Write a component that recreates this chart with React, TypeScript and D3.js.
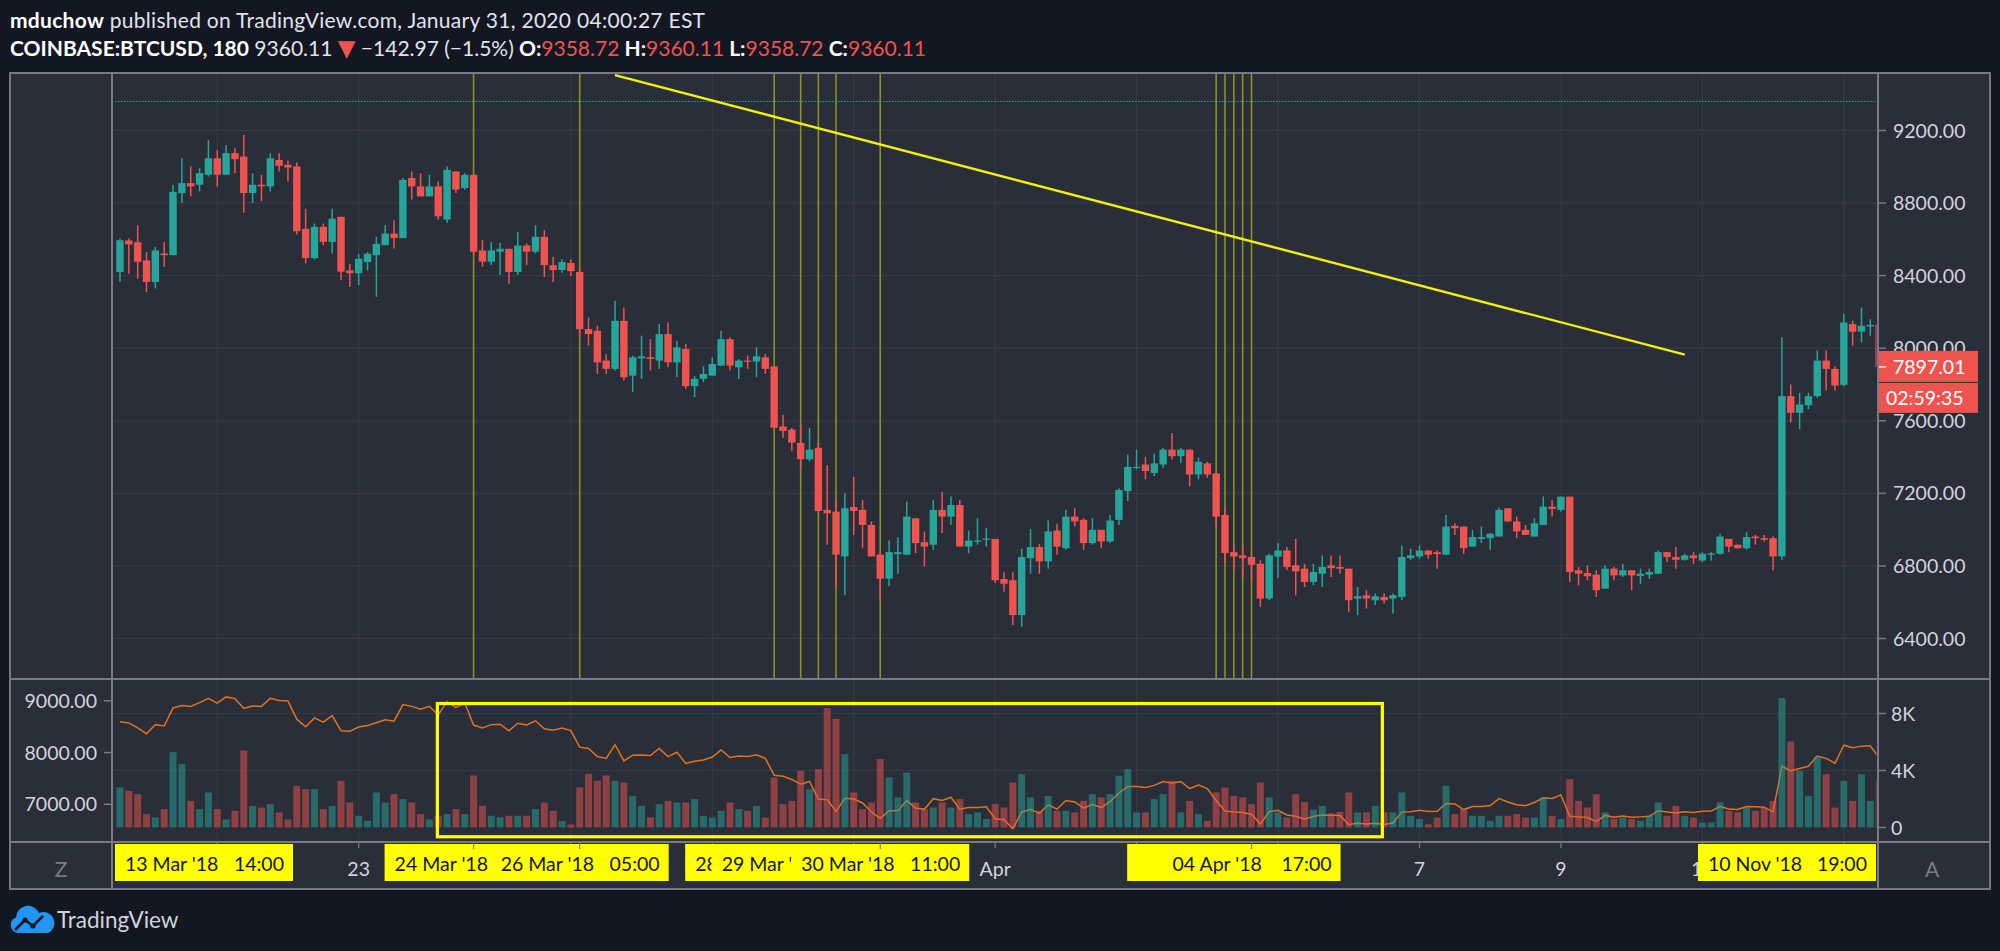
import React from "react";
import * as d3 from "d3";

// ---------- DATA ----------
const opens = [
  8420, 8594, 8584, 8484, 8365, 8522, 8513, 8855, 8910, 8901,
  8956, 9047, 8956, 9075, 9056, 8855, 8901, 8892, 9038, 9011,
  9002, 8658, 8497, 8669, 8586, 8724, 8429, 8413, 8475, 8513,
  8568, 8632, 8607, 8938, 8892, 8837, 8892, 8709, 8974, 8883,
  8956, 8539, 8477, 8532, 8548, 8420, 8566, 8532, 8614, 8457,
  8431, 8470, 8420, 8105, 8096, 7932, 7886, 8151, 7849, 7944,
  7950, 7932, 8078, 7922, 7996, 7791, 7831, 7849, 7904, 8050,
  7895, 7932, 7926, 7950, 7900, 7569, 7551, 7478, 7388, 7451,
  7109, 7099, 6853, 7125, 7109, 7026, 6862, 6730, 6865, 6862,
  7063, 6931, 6917, 7109, 7072, 7136, 6907, 6935, 6946, 6949,
  6728, 6721, 6529, 6843, 6904, 6825, 6995, 6898, 7072, 7054,
  6926, 6999, 6935, 7054, 7213, 7341, 7359, 7313, 7359, 7441,
  7405, 7441, 7304, 7365, 7310, 7081, 6876, 6858, 6849, 6812,
  6620, 6852, 6885, 6803, 6785, 6712, 6757, 6803, 6794, 6785,
  6620, 6638, 6611, 6629, 6620, 6629, 6843, 6852, 6885, 6876,
  6862, 7021, 7017, 6907, 6949, 6953, 6962, 7118, 7045, 6999,
  6962, 7026, 7127, 7109, 7182, 6776, 6761, 6752, 6675, 6785,
  6748, 6776, 6745, 6752, 6757, 6876, 6849, 6834, 6858, 6830,
  6862, 6867, 6949, 6917, 6898, 6962, 6953, 6953, 6853, 7736,
  7644, 7685, 7736, 7932, 7886, 7798, 8133, 8091, 8120, 8130,
];
const highs = [
  8605, 8605, 8678, 8530, 8559, 8586, 8899, 9049, 9002, 8992,
  9148, 9093, 9120, 9102, 9175, 8965, 8956, 9075, 9075, 9035,
  9024, 8769, 8687, 8687, 8769, 8724, 8466, 8521, 8530, 8614,
  8678, 8705, 8938, 8974, 8965, 8956, 8919, 9002, 8974, 8965,
  8956, 8596, 8586, 8581, 8548, 8641, 8577, 8678, 8650, 8504,
  8490, 8490, 8440, 8169, 8124, 7968, 8261, 8224, 7959, 8069,
  8050, 8133, 8142, 8041, 8023, 7846, 7900, 7950, 8096, 8060,
  7941, 7959, 8005, 7968, 7900, 7633, 7560, 7579, 7560, 7478,
  7355, 7163, 7200, 7291, 7163, 7045, 6884, 6940, 6958, 7154,
  7063, 6990, 7163, 7209, 7182, 7163, 6995, 7063, 7008, 6949,
  6765, 6765, 6895, 7004, 6922, 7050, 7032, 7109, 7118, 7063,
  7063, 6999, 7081, 7227, 7414, 7441, 7401, 7419, 7451, 7533,
  7451, 7441, 7396, 7374, 7310, 7118, 6913, 6913, 6867, 6831,
  6867, 6926, 6904, 6949, 6812, 6812, 6858, 6858, 6858, 6785,
  6684, 6666, 6648, 6648, 6648, 6913, 6895, 6913, 6885, 6885,
  7081, 7035, 7017, 6999, 7017, 6981, 7121, 7118, 7072, 7026,
  7063, 7182, 7163, 7182, 7182, 6794, 6803, 6776, 6803, 6794,
  6812, 6776, 6785, 6785, 6885, 6876, 6904, 6867, 6876, 6876,
  6876, 6977, 6949, 6917, 6986, 6971, 6971, 6962, 8060, 7800,
  7754, 7754, 7987, 7987, 7900, 8188, 8151, 8224, 8160, 8135,
];
const lows = [
  8365, 8411, 8383, 8310, 8329, 8449, 8513, 8800, 8837, 8864,
  8947, 8892, 8956, 8965, 8746, 8800, 8810, 8864, 8974, 8919,
  8627, 8468, 8489, 8568, 8522, 8376, 8338, 8347, 8429, 8283,
  8568, 8550, 8607, 8819, 8837, 8837, 8709, 8691, 8855, 8874,
  8513, 8449, 8458, 8404, 8356, 8404, 8458, 8522, 8393, 8365,
  8416, 8400, 8069, 8014, 7858, 7858, 7877, 7822, 7758, 7831,
  7877, 7886, 7895, 7840, 7776, 7730, 7813, 7849, 7904, 7877,
  7831, 7886, 7840, 7858, 7562, 7505, 7432, 7332, 7377, 7103,
  6917, 6688, 6639, 6971, 6898, 6853, 6609, 6688, 6757, 6862,
  6871, 6798, 6889, 6981, 7026, 6907, 6871, 6917, 6907, 6706,
  6657, 6474, 6465, 6757, 6757, 6785, 6862, 6889, 7017, 6889,
  6917, 6898, 6926, 7026, 7158, 7332, 7277, 7295, 7341, 7387,
  7368, 7240, 7277, 7286, 7017, 6816, 6779, 6734, 6715, 6574,
  6611, 6734, 6776, 6638, 6684, 6693, 6684, 6739, 6757, 6547,
  6529, 6565, 6584, 6593, 6538, 6611, 6834, 6840, 6840, 6785,
  6862, 6971, 6867, 6907, 6926, 6889, 6962, 7045, 6953, 6971,
  6962, 7026, 7072, 7099, 6712, 6693, 6721, 6629, 6675, 6721,
  6739, 6666, 6702, 6730, 6757, 6821, 6785, 6830, 6812, 6821,
  6830, 6862, 6876, 6895, 6889, 6917, 6935, 6776, 6834, 7590,
  7553, 7663, 7727, 7767, 7767, 7791, 8014, 8032, 8069, 7895,
];
const closes = [
  8595, 8572, 8477, 8365, 8539, 8513, 8862, 8910, 8892, 8965,
  9047, 8956, 9075, 9042, 8855, 8901, 8892, 9047, 9005, 8996,
  8645, 8497, 8669, 8586, 8714, 8422, 8413, 8493, 8521, 8575,
  8632, 8607, 8928, 8892, 8837, 8892, 8727, 8983, 8874, 8956,
  8532, 8477, 8539, 8548, 8420, 8566, 8532, 8614, 8458, 8431,
  8475, 8425, 8105, 8078, 7922, 7886, 8151, 7840, 7950, 7955,
  7941, 8078, 7922, 8005, 7791, 7831, 7858, 7913, 8050, 7904,
  7932, 7926, 7955, 7886, 7562, 7544, 7480, 7388, 7441, 7103,
  7090, 6862, 7118, 7103, 7026, 6853, 6730, 6876, 6876, 7072,
  6926, 6907, 7109, 7072, 7136, 6907, 6940, 6940, 6951, 6721,
  6702, 6529, 6849, 6904, 6825, 6990, 6907, 7072, 7045, 6926,
  6999, 6935, 7050, 7218, 7346, 7346, 7323, 7365, 7441, 7405,
  7441, 7304, 7374, 7304, 7072, 6871, 6852, 6843, 6807, 6620,
  6858, 6885, 6794, 6770, 6712, 6767, 6794, 6788, 6785, 6611,
  6633, 6620, 6633, 6611, 6638, 6849, 6858, 6885, 6862, 6865,
  7017, 7008, 6898, 6959, 6959, 6977, 7109, 7045, 6990, 6971,
  7035, 7127, 7114, 7182, 6767, 6757, 6743, 6666, 6785, 6748,
  6776, 6748, 6757, 6767, 6876, 6849, 6834, 6858, 6843, 6867,
  6869, 6962, 6907, 6898, 6959, 6953, 6944, 6853, 7736, 7644,
  7690, 7736, 7932, 7886, 7794, 8142, 8091, 8124, 8129, 7897.01,
];
const volumes = [
  2808, 2576, 2340, 940, 710, 1290, 5290, 4470, 1870, 1290,
  2460, 1290, 565, 1170, 5410, 1520, 1400, 1640, 1060, 565,
  2920, 2690, 2690, 1290, 1520, 3280, 1760, 825, 470, 2460,
  1760, 2340, 1990, 1760, 940, 565, 825, 940, 1290, 940,
  3650, 1520, 825, 710, 825, 825, 825, 1290, 1760, 1170,
  450, 215, 2810, 3770, 3280, 3650, 3280, 3160, 2220, 1520,
  710, 1640, 1870, 1760, 1760, 1990, 820, 700, 1170, 1760,
  1290, 1170, 1520, 700, 3510, 1640, 1870, 3980, 2690, 4100,
  8380, 7630, 5150, 2460, 1290, 1760, 4800, 3510, 2110, 3860,
  1760, 1290, 1400, 1760, 1400, 1990, 940, 1060, 590, 1640,
  1400, 3160, 3745, 2110, 1170, 2220, 1170, 1170, 1060, 1870,
  2340, 2110, 2340, 3630, 4100, 1060, 1060, 1990, 2340, 3280,
  1060, 1870, 940, 470, 2460, 2810, 2220, 2110, 1640, 3160,
  2110, 1060, 700, 2340, 1800, 1260, 1520, 1000, 1100, 2460,
  1060, 1060, 1520, 1060, 1060, 2460, 820, 590, 230, 700,
  2930, 940, 1290, 820, 820, 470, 820, 820, 940, 700,
  700, 2110, 820, 590, 3390, 1870, 1400, 2340, 1060, 590,
  700, 590, 470, 820, 1760, 820, 1520, 820, 700, 350,
  350, 1760, 1170, 1060, 1400, 1170, 1400, 1870, 9080, 6040,
  3980, 2220, 4980, 3740, 1400, 3280, 1870, 3740, 1870, 3280,
];

const priceTicks = [9200, 8800, 8400, 8000, 7600, 7200, 6800, 6400];
const priceTickLabels = ["9200.00", "8800.00", "8400.00", "8000.00", "7600.00", "7200.00", "6800.00", "6400.00"];
const volTicks = [8000, 4000, 0];
const volTickLabels = ["8K", "4K", "0"];
const cmpTicks = [9000, 8000, 7000];
const cmpTickLabels = ["9000.00", "8000.00", "7000.00"];
const timeTickIndex = [11, 27, 51, 67, 83, 99, 115, 131, 147, 163, 179, 195];
const timeTickLabels = ["21", "23", "26", "28", "30", "Apr", "3", "5", "7", "9", "11", "13"];

const markerIndex = [40, 52, 74, 77, 79, 81, 86, 124, 125, 126, 127, 128];
// labels drawn in this order (later ones cover earlier ones)
const labelIndex = [79, 81, 40, 52, 74, 77, 86, 124, 125, 126, 127, 128];
const labelDates = ["29 Mar '18", "29 Mar '18", "24 Mar '18", "26 Mar '18", "28 Mar '18", "29 Mar '18", "30 Mar '18", "04 Apr '18", "04 Apr '18", "04 Apr '18", "04 Apr '18", "04 Apr '18"];
const labelTimes = ["14:00", "20:00", "17:00", "05:00", "23:00", "08:00", "11:00", "05:00", "08:00", "11:00", "14:00", "17:00"];
const leftLabel = { date: "13 Mar '18", time: "14:00" };
const rightLabel = { date: "10 Nov '18", time: "19:00" };
const tickedMarkers = [40, 52, 86, 128];

const trendLine = [[56.1, 9504], [176.9, 7966]];
const boxIdx = [35.9, 142.8];
const boxVol = [8700, -650];

const lastPrice = 9360.11;
const lastClose = 7897.01;
const countdown = "02:59:35";
const author = "mduchow";
const publishLine = " published on TradingView.com, January 31, 2020 04:00:27 EST";
const symbolText = "COINBASE:BTCUSD, 180";
const changeText = "−142.97 (−1.5%)";
const ohlcText = [["O:", "9358.72"], ["H:", "9360.11"], ["L:", "9358.72"], ["C:", "9360.11"]];

// ---------- STYLE ----------
const C = {
  bg: "#131722",
  pane: "#2a2e39",
  grid: "#363a45",
  border: "#787b86",
  text: "#d1d4dc",
  up: "#26a69a",
  down: "#ef5350",
  volUp: "rgba(38,166,154,0.5)",
  volDown: "rgba(239,83,80,0.5)",
  orange: "#e2711d",
  olive: "#8f8f22",
  yellow: "#ffff00",
};
const FONT = "Lato, 'Open Sans', sans-serif";

export default function App() {
  const W = 2000, H = 951;
  const L = { left: 10, right: 1990, top: 73, bottom: 889, axisL: 112, axisR: 1878, priceBottom: 679, volBottom: 842 };
  const n = closes.length;
  const step = 8.84;
  const x = d3.scaleLinear().domain([0, n - 1]).range([120, 120 + (n - 1) * step]);
  const yP = d3.scaleLinear().domain([6400, 9200]).range([638.5, 130.5]);
  const yV = d3.scaleLinear().domain([0, 8000]).range([827.5, 713.5]);
  const yC = d3.scaleLinear().domain([7000, 9000]).range([804.3, 700.8]);
  const idx = d3.range(n);
  const bodyW = 7.4;
  const volW = 7;

  const cmpLine = d3.line<number>().x((i) => x(i)).y((i) => yC(closes[i]))(idx) || "";

  const boxW = 178;
  const boxY = 844, boxH = 37;
  const datePad = 10, timeW = 50;

  // all label boxes in draw order
  const boxes = [
    { a: L.axisL + 3, date: leftLabel.date, time: leftLabel.time, key: "lbl-left" },
    ...labelIndex.map((i, j) => ({ a: x(i) - boxW / 2, date: labelDates[j], time: labelTimes[j], key: "lbl" + i })),
    { a: L.axisR - 2 - boxW, date: rightLabel.date, time: rightLabel.time, key: "lbl-right" },
  ];
  const visible = boxes.map((b, k) => {
    let vs = b.a, ve = b.a + boxW;
    for (let m = k + 1; m < boxes.length; m++) {
      const o = boxes[m];
      if (o.a <= b.a && o.a + boxW > b.a) vs = Math.max(vs, o.a + boxW);
      if (o.a > b.a && o.a < b.a + boxW) ve = Math.min(ve, o.a);
    }
    return [vs, ve];
  });

  const tickHidden = (i: number, label: string) => {
    const hw = label.length * 5.6;
    return boxes.some((b) => x(i) - hw >= b.a && x(i) + hw <= b.a + boxW);
  };

  return (
    <svg width={W} height={H} style={{ position: "absolute", left: 0, top: 0 }} xmlns="http://www.w3.org/2000/svg">
      <defs>
        <clipPath id="pricePane">
          <rect x={L.axisL + 1} y={L.top + 1} width={L.axisR - L.axisL - 2.5} height={L.priceBottom - L.top - 2} />
        </clipPath>
        <clipPath id="volPane">
          <rect x={L.axisL + 1} y={L.priceBottom + 1} width={L.axisR - L.axisL - 2.5} height={L.volBottom - L.priceBottom - 2} />
        </clipPath>
        <clipPath id="timeAxis">
          <rect x={L.axisL + 1} y={L.volBottom + 1} width={L.axisR - L.axisL - 2} height={L.bottom - L.volBottom - 2} />
        </clipPath>
        {boxes.map((b, k) => (
          <clipPath key={"cp" + b.key} id={"cp-" + b.key}>
            <rect x={visible[k][0]} y={boxY} width={Math.max(0, visible[k][1] - visible[k][0])} height={boxH} />
          </clipPath>
        ))}
      </defs>
      <rect x={0} y={0} width={W} height={H} fill={C.bg} />

      {/* header */}
      <text x={10} y={28} fontSize={21} fontFamily={FONT} fill="#e1e3ea" textLength={695} lengthAdjust="spacing">
        <tspan fontWeight={700} fill="#ffffff">{author}</tspan>
        <tspan>{publishLine}</tspan>
      </text>
      <text x={10} y={56} fontSize={21} fontFamily={FONT} fill="#e1e3ea">
        <tspan fontWeight={700} fill="#ffffff">{symbolText}</tspan>
        <tspan>{" " + lastPrice.toFixed(2) + " "}</tspan>
        <tspan fill={C.down} fontSize={23} fontFamily="'DejaVu Sans', sans-serif">▼</tspan>
        <tspan>{" " + changeText}</tspan>
        {ohlcText.map(([k, v]) => (
          <React.Fragment key={k}>
            <tspan fontWeight={700} fill="#ffffff">{" " + k}</tspan>
            <tspan fill={C.down}>{v}</tspan>
          </React.Fragment>
        ))}
      </text>

      {/* panes background */}
      <rect x={L.left} y={L.top} width={L.right - L.left} height={L.bottom - L.top} fill={C.pane} />

      {/* grid */}
      <g>
        {priceTicks.map((v) => (
          <line key={"pg" + v} x1={L.axisL} x2={L.axisR} y1={yP(v)} y2={yP(v)} stroke={C.grid} strokeWidth={1.2} />
        ))}
        {timeTickIndex.map((i) => (
          <line key={"tg" + i} x1={x(i)} x2={x(i)} y1={L.top} y2={L.volBottom} stroke={C.grid} strokeWidth={1.2} />
        ))}
        {volTicks.slice(0, 2).map((v) => (
          <line key={"vg" + v} x1={L.axisL} x2={L.axisR} y1={yV(v)} y2={yV(v)} stroke={C.grid} strokeWidth={1.2} />
        ))}
      </g>

      {/* price pane content */}
      <g clipPath="url(#pricePane)">
        {markerIndex.map((i) => (
          <line key={"ml" + i} x1={x(i)} x2={x(i)} y1={L.top} y2={L.priceBottom} stroke={C.olive} strokeWidth={1.6} />
        ))}
        <line x1={115} x2={1876} y1={yP(lastPrice)} y2={yP(lastPrice)} stroke={C.up} strokeWidth={1} strokeDasharray="1.5 1.5" />
        {idx.map((i) => {
          const up = closes[i] >= opens[i];
          const col = up ? C.up : C.down;
          const yTop = yP(Math.max(opens[i], closes[i]));
          const yBot = yP(Math.min(opens[i], closes[i]));
          return (
            <g key={"c" + i}>
              <line x1={x(i)} x2={x(i)} y1={yP(highs[i])} y2={yP(lows[i])} stroke={col} strokeWidth={1.5} />
              <rect x={x(i) - bodyW / 2} y={yTop} width={bodyW} height={Math.max(1.2, yBot - yTop)} fill={col} />
            </g>
          );
        })}
        <line
          x1={x(trendLine[0][0])} y1={yP(trendLine[0][1])}
          x2={x(trendLine[1][0])} y2={yP(trendLine[1][1])}
          stroke="#f2f20c" strokeWidth={2.4} strokeLinecap="round"
        />
      </g>

      {/* volume pane content */}
      <g clipPath="url(#volPane)">
        <path d={cmpLine} fill="none" stroke={C.orange} strokeWidth={1.5} />
        {idx.map((i) => {
          const up = closes[i] >= opens[i];
          return (
            <rect key={"v" + i} x={x(i) - volW / 2} y={yV(volumes[i])} width={volW}
              height={yV(0) - yV(volumes[i])} fill={up ? C.volUp : C.volDown} />
          );
        })}
        <rect x={x(boxIdx[0])} y={yV(boxVol[0])} width={x(boxIdx[1]) - x(boxIdx[0])}
          height={yV(boxVol[1]) - yV(boxVol[0])} fill="none" stroke={C.yellow} strokeWidth={3.2} />
      </g>

      {/* axes labels */}
      <g fontFamily={FONT} fontSize={19.5} fill={C.text}>
        {priceTicks.map((v, j) => (
          <g key={"pt" + v}>
            <line x1={L.axisR} x2={L.axisR + 8} y1={yP(v)} y2={yP(v)} stroke={C.border} strokeWidth={1.5} />
            <text x={1893} y={yP(v)} dy="0.36em">{priceTickLabels[j]}</text>
          </g>
        ))}
        {volTicks.map((v, j) => (
          <g key={"vt" + v}>
            <line x1={L.axisR} x2={L.axisR + 8} y1={yV(v)} y2={yV(v)} stroke={C.border} strokeWidth={1.5} />
            <text x={1891} y={yV(v)} dy="0.36em">{volTickLabels[j]}</text>
          </g>
        ))}
        {cmpTicks.map((v, j) => (
          <g key={"ct" + v}>
            <line x1={L.axisL - 8} x2={L.axisL} y1={yC(v)} y2={yC(v)} stroke={C.border} strokeWidth={1.5} />
            <text x={97} y={yC(v)} dy="0.36em" textAnchor="end">{cmpTickLabels[j]}</text>
          </g>
        ))}
      </g>

      {/* last price labels */}
      <g fontFamily={FONT} fontSize={19.5}>
        <rect x={L.axisR - 1} y={yP(lastClose) - 16} width={101} height={31} fill={C.down} />
        <line x1={L.axisR} x2={L.axisR + 8} y1={yP(lastClose)} y2={yP(lastClose)} stroke="#ffffff" strokeWidth={1.2} />
        <text x={1893} y={yP(lastClose)} dy="0.36em" fill="#ffffff">{lastClose.toFixed(2)}</text>
        <rect x={L.axisR + 1} y={yP(lastClose) + 16} width={99} height={30} fill={C.down} />
        <text x={1886} y={yP(lastClose) + 31} dy="0.36em" fill="#ffffff">{countdown}</text>
      </g>

      {/* time axis */}
      <g fontFamily={FONT} fontSize={19.5} fill={C.text}>
        {timeTickIndex.map((i, j) => (
          <g key={"tt" + i}>
            <line x1={x(i)} x2={x(i)} y1={L.volBottom} y2={L.volBottom + 6} stroke={C.border} strokeWidth={1.2} />
            {!tickHidden(i, timeTickLabels[j]) && (
              <text x={x(i)} y={876} textAnchor="middle">{timeTickLabels[j]}</text>
            )}
          </g>
        ))}
      </g>
      <g clipPath="url(#timeAxis)" fontFamily={FONT} fontSize={19.5} fill="#131722">
        {boxes.map((b, k) => {
          const [vs, ve] = visible[k];
          const showDate = b.a + datePad + 2 < ve && vs < b.a + datePad + 5;
          const showTime = b.a + boxW - 9 - timeW + 2 < ve;
          return (
            <g key={b.key}>
              <rect x={b.a} y={boxY} width={boxW} height={boxH} fill={C.yellow} />
              <g clipPath={"url(#cp-" + b.key + ")"}>
                {showDate && <text x={b.a + datePad} y={871}>{b.date}</text>}
                {showTime && <text x={b.a + boxW - 9} y={871} textAnchor="end">{b.time}</text>}
              </g>
            </g>
          );
        })}
        {tickedMarkers.map((i) => (
          <line key={"tm" + i} x1={x(i)} x2={x(i)} y1={L.volBottom} y2={L.volBottom + 7} stroke={C.border} strokeWidth={1.2} />
        ))}
      </g>
      <text x={61} y={877} textAnchor="middle" fontFamily={FONT} fontSize={21} fill={C.border}>Z</text>
      <text x={1932} y={877} textAnchor="middle" fontFamily={FONT} fontSize={21} fill={C.border}>A</text>

      {/* frame lines */}
      <g stroke={C.border} strokeWidth={2} fill="none">
        <rect x={L.left} y={L.top} width={L.right - L.left} height={L.bottom - L.top} />
        <line x1={L.axisL} x2={L.axisL} y1={L.top} y2={L.bottom} />
        <line x1={L.axisR} x2={L.axisR} y1={L.top} y2={L.bottom} />
        <line x1={L.left} x2={L.right} y1={L.priceBottom} y2={L.priceBottom} />
        <line x1={L.left} x2={L.right} y1={L.volBottom} y2={L.volBottom} />
      </g>

      {/* logo */}
      <g transform="translate(10,905)">
        <path d="M8,28 A8,8 0 0 1 6,12.5 A12,12 0 0 1 29,8 A10,10 0 0 1 38,28 Z" fill="#2196f3" />
        <polyline points="5,25 15,15 23,21 33,11" fill="none" stroke={C.bg} strokeWidth={2.6} />
        <circle cx={15} cy={15} r={2.6} fill={C.bg} />
        <circle cx={23} cy={21} r={2.6} fill={C.bg} />
      </g>
      <text x={57} y={928} fontFamily={FONT} fontSize={22.5} fill={C.text}>TradingView</text>
    </svg>
  );
}
